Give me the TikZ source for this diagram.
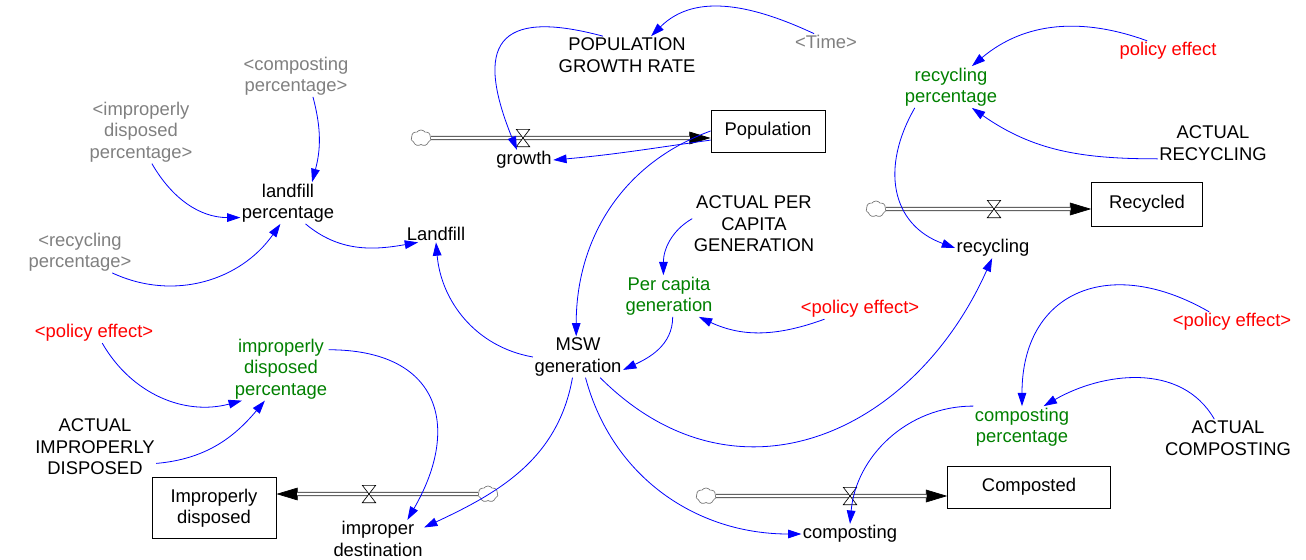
\documentclass[tikz,border=0pt]{standalone}
\usepackage{fontspec}
\setmainfont{Liberation Sans}
\usetikzlibrary{arrows.meta,calc,shapes.symbols}

\definecolor{linkblue}{RGB}{0,0,255}
\definecolor{auxgreen}{RGB}{0,128,0}
\definecolor{policyred}{RGB}{255,0,0}
\definecolor{shadowgray}{RGB}{128,128,128}

\begin{document}
\begin{tikzpicture}[
  x=0.75pt, y=0.75pt,
  font=\fontsize{13.8}{16.1}\selectfont,
  var/.style={align=center, inner sep=1pt, yshift=-1.5pt},
  aux/.style={var, text=auxgreen},
  policy/.style={var, text=policyred},
  shadow/.style={var, text=shadowgray},
  stock/.style={draw, line width=0.6pt, align=center, inner sep=2pt},
  source/.style={cloud, cloud puffs=7, cloud puff arc=110, aspect=1.25, draw=black!55,
    fill=white, line width=0.5pt, inner sep=0pt, minimum width=15pt, minimum height=12pt},
  pipe/.style={draw=black!70, line width=0.7pt, double=white, double distance=1.8pt, shorten >=15.5pt},
  flowtip/.style={-{Triangle[length=16pt, width=9.5pt]}, line width=0.5pt},
  link/.style={linkblue, line width=0.6pt, -{Triangle[length=10pt, width=6.5pt]}},
  valve/.pic={\draw[fill=white, line width=0.5pt] (-5pt,6.5pt) -- (5pt,6.5pt) -- (-5pt,-6.5pt) -- (5pt,-6.5pt) -- cycle;},
]
  \useasboundingbox (0,0) rectangle (1306,-560);

  % ===== population =====
  \node[var] (pgr) at (627,-53) {POPULATION\\GROWTH RATE};
  \node[shadow] (time) at (826,-40) {<Time>};
  \node[stock, minimum width=85.5pt, minimum height=31.5pt] (population) at (768,-131) {Population};
  \node[var] (growth) at (524,-158) {growth};
  \node[source] (c1) at (421,-138) {};

  \draw[flowtip] (c1.east) -- (population.west |- c1);
  \draw[pipe] (c1.east) -- (population.west |- c1);
  \pic at (523,-138) {valve};

  % ===== landfill =====
  \node[shadow] (cpLF) at (296,-74) {<composting\\percentage>};
  \node[shadow] (ipLF) at (141,-130) {<improperly\\disposed\\percentage>};
  \node[var] (lfp) at (288,-201) {landfill\\percentage};
  \node[shadow] (rpLF) at (80,-250) {<recycling\\percentage>};
  \node[var] (landfill) at (436,-232) {Landfill};

  % ===== recycling =====
  \node[aux] (rp) at (951,-85) {recycling\\percentage};
  \node[policy] (pe1) at (1168,-49) {policy effect};
  \node[var] (ar) at (1213,-141) {ACTUAL\\RECYCLING};
  \node[stock, minimum width=83pt, minimum height=33pt] (recycled) at (1147,-204) {Recycled};
  \node[var] (recycling) at (993,-246) {recycling};
  \node[source] (c2) at (876,-209) {};

  \draw[flowtip] (c2.east) -- (recycled.west |- c2);
  \draw[pipe] (c2.east) -- (recycled.west |- c2);
  \pic at (994,-209) {valve};

  % ===== generation =====
  \node[var] (apcg) at (754,-222) {ACTUAL PER\\CAPITA\\GENERATION};
  \node[aux] (pcg) at (669,-294) {Per capita\\generation};
  \node[policy] (pe2) at (860,-307) {<policy effect>};
  \node[var] (msw) at (578,-355) {MSW\\generation};

  % ===== improper disposal =====
  \node[policy] (pe3) at (94,-331) {<policy effect>};
  \node[aux] (idp) at (281,-367) {improperly\\disposed\\percentage};
  \node[var] (aid) at (95,-445) {ACTUAL\\IMPROPERLY\\DISPOSED};
  \node[stock, minimum width=93pt, minimum height=46pt] (improperly) at (214,-508) {Improperly\\disposed};
  \node[var] (impdest) at (378,-537) {improper\\destination};
  \node[source] (c3) at (488,-494) {};

  \draw[flowtip] (c3.west) -- (improperly.east |- c3);
  \draw[pipe] (c3.west) -- (improperly.east |- c3);
  \pic at (369,-494) {valve};

  % ===== composting =====
  \node[policy] (pe4) at (1232,-320) {<policy effect>};
  \node[aux] (cp) at (1022,-425) {composting\\percentage};
  \node[var] (ac) at (1228,-436) {ACTUAL\\COMPOSTING};
  \node[stock, minimum width=122pt, minimum height=31.5pt] (composted) at (1029,-487) {Composted};
  \node[var] (composting) at (850,-532) {composting};
  \node[source] (c4) at (706,-496) {};

  \draw[flowtip] (c4.east) -- (composted.west |- c4);
  \draw[pipe] (c4.east) -- (composted.west |- c4);
  \pic at (850,-496) {valve};

  % ===== links =====
  \draw[link] (time.145) to[out=155, in=45] (pgr.38);
  \draw[link] (pgr.142) to[out=165, in=112, looseness=2] (growth.125);
  \draw[link] (population.189) to[out=188, in=5] (growth.east);
  \draw[link] (population.west) to[out=200, in=90] (msw.95);

  \draw[link] (cpLF.-51) to[out=-75, in=75] (lfp.41);
  \draw[link] (ipLF.-71) to[out=-60, in=180] (lfp.197);
  \draw[link] (rpLF.-33) to[out=-25, in=235] (lfp.-110);
  \draw[link] (lfp.-50) to[out=-40, in=190] (landfill.205);
  \draw[link] (msw.180) to[out=170, in=-85] (landfill.-90);

  \draw[link] (pe1.154) to[out=160, in=40] (rp.45);
  \draw[link] (ar.196) to[out=180, in=-35] (rp.-45);
  \draw[link] (rp.-150) to[out=-120, in=160, looseness=1.2] (recycling.180);
  \draw[link] (msw.-43) to[out=-45, in=-114, looseness=1.2] (recycling.-95);

  \draw[link] (apcg.175) to[out=210, in=90] (pcg.105);
  \draw[link] (pe2.196) to[out=200, in=-25] (pcg.-35);
  \draw[link] (pcg.-80) to[out=-90, in=25] (msw.-16);

  \draw[link] (pe3.-51) to[out=-60, in=195] (idp.219);
  \draw[link] (aid.-15) to[out=5, in=230] (idp.-117);
  \draw[link] (idp.22) to[out=0, in=60, looseness=1.5] (impdest.33);
  \draw[link] (msw.-105) to[out=-100, in=25] (impdest.14);
  \draw[link] (msw.-70) to[out=-75, in=180] (composting.180);

  \draw[link] (pe4.156) to[out=150, in=90, looseness=1.4] (cp.90);
  \draw[link] (ac.126) to[out=120, in=30] (cp.44);
  \draw[link] (cp.north west) to[out=180, in=85] (composting.90);
\end{tikzpicture}
\end{document}
